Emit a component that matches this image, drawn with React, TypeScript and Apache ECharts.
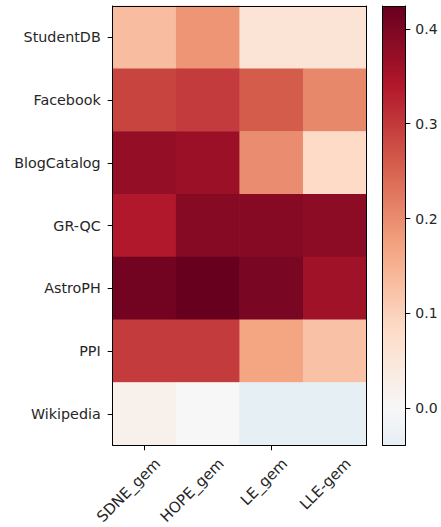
import React, { useEffect, useRef } from "react";
import * as echarts from "echarts";

const datasets = ["StudentDB", "Facebook", "BlogCatalog", "GR-QC", "AstroPH", "PPI", "Wikipedia"];
const methods = ["SDNE_gem", "HOPE_gem", "LE_gem", "LLE-gem"];

const studentDB = [0.133, 0.19, 0.06, 0.06];
const facebook = [0.288, 0.298, 0.26, 0.206];
const blogCatalog = [0.373, 0.365, 0.2, 0.085];
const grqc = [0.339, 0.389, 0.389, 0.381];
const astroPH = [0.411, 0.424, 0.403, 0.361];
const ppi = [0.298, 0.298, 0.168, 0.124];
const wikipedia = [0.02, 0.0, -0.039, -0.039];

const rows = [studentDB, facebook, blogCatalog, grqc, astroPH, ppi, wikipedia];
const colorbarTicks = [0, 0.1, 0.2, 0.3, 0.4];

// RdBu_r colormap anchor colours
const RDBU_R = [
  "#053061", "#2166ac", "#4393c3", "#92c5de", "#d1e5f0", "#f7f7f7",
  "#fddbc7", "#f4a582", "#d6604d", "#b2182b", "#67001f",
];

function hexToRgb(h: string) {
  return [parseInt(h.slice(1, 3), 16), parseInt(h.slice(3, 5), 16), parseInt(h.slice(5, 7), 16)];
}
function cmap(f: number) {
  const t = Math.max(0, Math.min(1, f)) * (RDBU_R.length - 1);
  const i = Math.min(RDBU_R.length - 2, Math.floor(t));
  const u = t - i;
  const a = hexToRgb(RDBU_R[i]);
  const b = hexToRgb(RDBU_R[i + 1]);
  const c = a.map((v, k) => Math.round(v + (b[k] - v) * u));
  return `rgb(${c[0]},${c[1]},${c[2]})`;
}

const GRID = { left: 112.7, top: 6, width: 254, height: 439.3 };
const CBAR = { left: 382.7, top: 6, width: 22.6, height: 439.3 };
const XLAB_SHIFT = 8;
const TEXT = "#262626";
const FONT = "DejaVu Sans";

export default function App() {
  const ref = useRef<HTMLDivElement>(null);
  useEffect(() => {
    document.body.style.margin = "0";
    const chart = echarts.init(ref.current!, null, { renderer: "svg" });
    const all = rows.flat();
    const vmin = Math.min(...all);
    const vmax = Math.max(...all);
    const vr = Math.max(Math.abs(vmin), Math.abs(vmax));
    const N = 120;
    const colors: string[] = [];
    for (let k = 0; k <= N; k++) {
      const v = vmin + ((vmax - vmin) * k) / N;
      colors.push(cmap(0.5 + v / (2 * vr)));
    }
    const data: any[] = [];
    rows.forEach((r, yi) => r.forEach((v, xi) => data.push([xi, yi, v])));

    const frameLine = { show: true, onZero: false, lineStyle: { color: "#000", width: 1 } };
    const hidden = { show: false };
    const tickStyle = { show: true, length: 5, lineStyle: { color: "#000", width: 1 } };

    chart.setOption({
      animation: false,
      grid: [
        { left: GRID.left, top: GRID.top, width: GRID.width, height: GRID.height },
        { left: CBAR.left, top: CBAR.top, width: CBAR.width, height: CBAR.height },
        { left: GRID.left + XLAB_SHIFT, top: GRID.top, width: GRID.width, height: GRID.height },
      ],
      xAxis: [
        {
          type: "category",
          gridIndex: 0,
          data: methods,
          position: "bottom",
          z: 10,
          axisLine: frameLine,
          axisTick: { ...tickStyle, alignWithLabel: true },
          axisLabel: hidden,
          splitLine: hidden,
        },
        {
          type: "value", gridIndex: 0, position: "top", min: 0, max: 1, z: 10,
          axisLine: frameLine, axisTick: hidden, axisLabel: hidden, splitLine: hidden,
        },
        {
          type: "value", gridIndex: 1, position: "bottom", min: 0, max: 1, z: 10,
          axisLine: frameLine, axisTick: hidden, axisLabel: hidden, splitLine: hidden,
        },
        {
          type: "value", gridIndex: 1, position: "top", min: 0, max: 1, z: 10,
          axisLine: frameLine, axisTick: hidden, axisLabel: hidden, splitLine: hidden,
        },
        {
          type: "category",
          gridIndex: 2,
          data: methods,
          position: "bottom",
          axisLine: hidden,
          axisTick: hidden,
          splitLine: hidden,
          axisLabel: {
            interval: 0,
            rotate: 45,
            align: "right",
            verticalAlign: "top",
            margin: 17,
            color: TEXT,
            fontSize: 15,
            fontFamily: FONT,
          },
        },
      ],
      yAxis: [
        {
          type: "category",
          gridIndex: 0,
          data: datasets,
          inverse: true,
          position: "left",
          z: 10,
          axisLine: frameLine,
          axisTick: { ...tickStyle, alignWithLabel: true },
          axisLabel: { interval: 0, margin: 12, color: TEXT, fontSize: 14.3, fontFamily: FONT },
          splitLine: hidden,
        },
        {
          type: "value", gridIndex: 0, position: "right", min: 0, max: 1, z: 10,
          axisLine: frameLine, axisTick: hidden, axisLabel: hidden, splitLine: hidden,
        },
        {
          type: "value",
          gridIndex: 1,
          position: "right",
          min: vmin,
          max: vmax,
          z: 10,
          axisLine: frameLine,
          axisTick: { ...tickStyle, customValues: colorbarTicks },
          axisLabel: {
            customValues: colorbarTicks,
            margin: 10,
            color: TEXT,
            fontSize: 14,
            fontFamily: FONT,
            formatter: (v: number) => v.toFixed(1),
          },
          splitLine: hidden,
        },
        {
          type: "value", gridIndex: 1, position: "left", min: 0, max: 1, z: 10,
          axisLine: frameLine, axisTick: hidden, axisLabel: hidden, splitLine: hidden,
        },
        {
          type: "value", gridIndex: 2, min: 0, max: 1,
          axisLine: hidden, axisTick: hidden, axisLabel: hidden, splitLine: hidden,
        },
      ],
      visualMap: {
        type: "continuous",
        seriesIndex: 0,
        min: vmin,
        max: vmax,
        calculable: false,
        hoverLink: false,
        orient: "vertical",
        left: CBAR.left,
        top: CBAR.top,
        itemWidth: CBAR.width,
        itemHeight: CBAR.height,
        padding: 0,
        inRange: { color: colors },
      },
      series: [
        {
          type: "heatmap",
          xAxisIndex: 0,
          yAxisIndex: 0,
          data,
          itemStyle: { borderWidth: 0 },
          emphasis: { disabled: true },
        },
      ],
    });
    return () => chart.dispose();
  }, []);
  return <div ref={ref} style={{ width: 441, height: 527 }} />;
}
